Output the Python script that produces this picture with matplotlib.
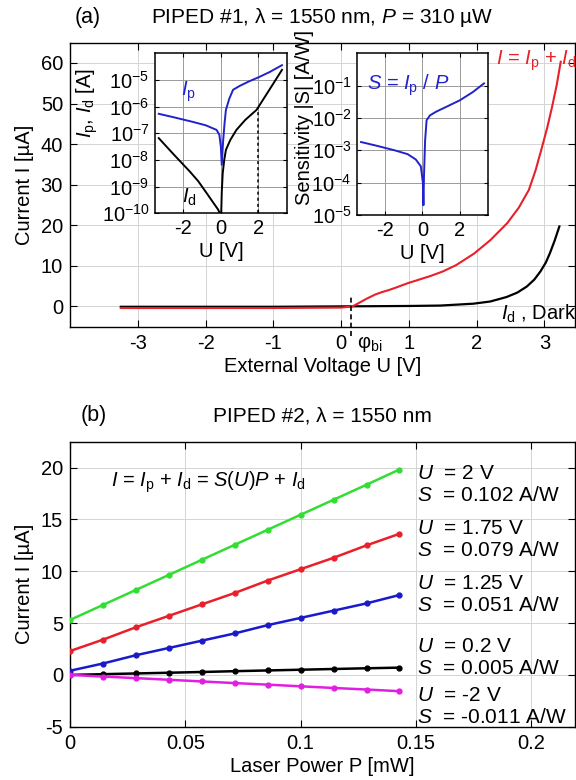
import numpy as np
import matplotlib
matplotlib.use("Agg")
import matplotlib.pyplot as plt
from matplotlib.ticker import LogLocator, NullFormatter, FixedLocator

plt.rcParams['font.family'] = ['Liberation Sans', 'DejaVu Sans']
plt.rcParams['mathtext.fontset'] = 'custom'
plt.rcParams['mathtext.rm'] = 'Liberation Sans'
plt.rcParams['mathtext.it'] = 'Liberation Sans:italic'
plt.rcParams['mathtext.bf'] = 'Liberation Sans:bold'
plt.rcParams['axes.unicode_minus'] = False
plt.rcParams['font.size'] = 14.5
FS = 14.5

# ---- (a) main I-U curves, current in uA ----
U_dark = [-3.25, -2.0, -1.0, 0.0, 0.5, 1.0, 1.46, 1.95, 2.2, 2.44, 2.6, 2.74, 2.85, 2.94, 3.02, 3.08, 3.15, 3.22]
I_dark = [-0.1, -0.1, -0.1, 0.0, 0.05, 0.1, 0.2, 0.66, 1.2, 2.3, 3.4, 4.9, 6.6, 8.6, 10.8, 13.1, 16.2, 19.7]

U_light = [-3.25, -2.0, -1.0, 0.0, 0.17, 0.28, 0.39, 0.5, 0.6, 0.7, 0.82, 0.98, 1.15, 1.32, 1.5, 1.7,
           1.96, 2.2, 2.45, 2.62, 2.77, 2.87, 2.96, 3.04, 3.11, 3.18, 3.24]
I_light = [-0.4, -0.4, -0.4, -0.3, 0.0, 1.0, 2.0, 2.9, 3.5, 4.0, 4.7, 5.7, 6.6, 7.5, 8.6, 10.2,
           13.0, 16.3, 20.5, 24.3, 28.7, 33.6, 39.0, 44.0, 49.0, 54.5, 60.3]

U_bi = 0.15

# ---- (a) inset 1: |Ip| and |Id| in A ----
U_ip = [-3.3, -2.5, -1.5, -0.8, -0.23, -0.08, 0.0, 0.05, 0.12, 0.2, 0.27, 0.45, 0.65, 1.0, 1.5, 2.0, 2.6, 3.25]
I_p = [5.4e-7, 4.0e-7, 2.7e-7, 2.0e-7, 1.35e-7, 8.9e-8, 3.2e-8, 6.6e-9, 5.0e-8, 2.5e-7, 7.6e-7,
       2.0e-6, 4.3e-6, 6.0e-6, 8.9e-6, 1.26e-5, 2.0e-5, 3.6e-5]

U_id = [-3.3, -2.5, -1.65, -1.2, -0.76, -0.4, -0.15, -0.05, 0.0, 0.05, 0.1, 0.18, 0.27, 0.5, 0.83,
        1.3, 1.9, 2.5, 3.0, 3.25]
I_d = [6.6e-8, 1.6e-8, 3.7e-9, 1.6e-9, 5.8e-10, 2.5e-10, 1.4e-10, 1.0e-10, 3e-11, 6.3e-10, 3.2e-9,
       1.0e-8, 2.4e-8, 5.6e-8, 1.35e-7, 3.2e-7, 7.6e-7, 3.5e-6, 1.26e-5, 2.4e-5]

# ---- (a) inset 2: sensitivity |S| in A/W ----
U_s = [-3.3, -2.5, -1.5, -0.8, -0.36, -0.09, 0.02, 0.05, 0.08, 0.14, 0.22, 0.4, 0.72, 1.2, 2.0, 2.7, 3.3]
S_abs = [1.8e-3, 1.4e-3, 1.0e-3, 7.6e-4, 5.2e-4, 3.2e-4, 1.0e-4, 2.0e-5, 1.6e-4, 2.0e-3, 8.5e-3,
         1.2e-2, 1.55e-2, 2.1e-2, 3.5e-2, 6.3e-2, 1.17e-1]

# ---- (b) current vs laser power ----
P_mW = [0.0, 0.0143, 0.0286, 0.0429, 0.0571, 0.0714, 0.0857, 0.1, 0.1143, 0.1286, 0.1427]
I_2V = [5.3, 6.75, 8.2, 9.65, 11.1, 12.55, 14.0, 15.45, 16.9, 18.35, 19.8]
I_175V = [2.3, 3.4, 4.6, 5.7, 6.8, 7.9, 9.1, 10.2, 11.3, 12.5, 13.6]
I_125V = [0.4, 1.1, 1.9, 2.6, 3.3, 4.0, 4.8, 5.5, 6.2, 6.9, 7.7]
I_02V = [0.0, 0.07, 0.14, 0.21, 0.28, 0.36, 0.43, 0.5, 0.57, 0.64, 0.7]
I_m2V = [0.0, -0.16, -0.31, -0.47, -0.63, -0.79, -0.94, -1.1, -1.26, -1.41, -1.57]

series_b = [I_2V, I_175V, I_125V, I_02V, I_m2V]
colors_b = ["#33dd33", "#e8202a", "#1a1acc", "black", "#e020e0"]
U_labels = ["2 V", "1.75 V", "1.25 V", "0.2 V", "-2 V"]
S_labels = ["0.102 A/W", "0.079 A/W", "0.051 A/W", "0.005 A/W", "-0.011 A/W"]
label_y = [18.35, 13.05, 7.75, 1.7, -3.05]

GRID = "#d4d4d4"
RED = "#e8202a"
BLUE = "#2222cc"


def style_axes(ax):
    ax.tick_params(direction="in", length=5, top=True, right=True, pad=5)
    ax.grid(True, color=GRID, lw=0.7)
    ax.set_axisbelow(True)
    for s in ax.spines.values():
        s.set_linewidth(1.0)


fig = plt.figure(figsize=(5.76, 7.8), dpi=100)

# ===================== panel (a) =====================
ax1 = fig.add_axes([0.1215, 0.5812, 0.8767, 0.3641])
style_axes(ax1)
ax1.plot(U_dark, I_dark, color="black", lw=1.6, zorder=2)
ax1.plot(U_light, I_light, color=RED, lw=1.5, zorder=3)
ax1.set_xlim(-4, 3.45)
ax1.set_ylim(-5, 65)
ax1.set_xticks([-3, -2, -1, 0, 1, 2, 3])
ax1.set_yticks([0, 10, 20, 30, 40, 50, 60])
ax1.set_xlabel("External Voltage U [V]", labelpad=3)
ax1.set_ylabel("Current I [µA]", labelpad=5)
ax1.plot([U_bi, U_bi], [-7.4, 2.9], color="black", lw=1.2, ls=(0, (3, 2)), clip_on=False, zorder=4)
ax1.text(U_bi + 0.08, -9.3, r"φ$_{\mathrm{bi}}$", ha="left", va="center", fontsize=FS)
ax1.text(3.47, 60.5, r"$I$ = $I_{\mathrm{p}}$ + $I_{\mathrm{d}}$", color=RED, ha="right", va="center", fontsize=FS)
ax1.text(3.47, -1.8, r"$I_{\mathrm{d}}$ , Dark", color="black", ha="right", va="center", fontsize=FS)
fig.text(0.13, 0.978, "(a)", ha="left", va="center", fontsize=FS + 1)
fig.text(0.56, 0.978, r"PIPED #1, λ = 1550 nm, $P$ = 310 µW", ha="center", va="center", fontsize=FS + 0.5)


def style_inset(ax):
    ax.set_yscale("log")
    ax.set_xlim(-3.5, 3.5)
    ax.set_xticks([-2, 0, 2])
    ax.tick_params(direction="in", length=3, pad=4, which="both", right=True, top=True)
    ax.tick_params(which="minor", length=0)
    ax.grid(True, which="major", axis="both", color="#9a9a9a", lw=0.7)
    ax.grid(True, which="minor", axis="y", color="#bdbdbd", lw=0.5)
    ax.yaxis.set_minor_locator(LogLocator(base=10, subs=np.arange(2, 10)))
    ax.yaxis.set_minor_formatter(NullFormatter())
    ax.set_axisbelow(True)
    ax.set_facecolor("white")
    for s in ax.spines.values():
        s.set_linewidth(1.1)


ins1 = fig.add_axes([0.2691, 0.7265, 0.2286, 0.2051])
style_inset(ins1)
ins1.plot(U_ip, I_p, color=BLUE, lw=1.4)
ins1.plot(U_id, I_d, color="black", lw=1.4)
ins1.plot([2, 2], [1e-10, 1.0e-6], color="black", lw=1.1, ls=(0, (2, 2)))
ins1.set_ylim(1e-10, 1e-4)
ins1.yaxis.set_major_locator(FixedLocator([1e-10, 1e-9, 1e-8, 1e-7, 1e-6, 1e-5]))
ins1.set_xlabel("U [V]", labelpad=3)
ins1.set_ylabel(r"$I_{\mathrm{p}}$, $I_{\mathrm{d}}$ [A]")
ins1.yaxis.set_label_coords(-0.42, 0.69)
ins1.text(-1.7, 10**-5.45, r"$I_{\mathrm{p}}$", color=BLUE, ha="center", va="center", fontsize=FS)
ins1.text(-1.7, 10**-9.4, r"$I_{\mathrm{d}}$", color="black", ha="center", va="center", fontsize=FS)

ins2 = fig.add_axes([0.6203, 0.7244, 0.2264, 0.2073])
style_inset(ins2)
ins2.plot(U_s, S_abs, color=BLUE, lw=1.4)
ins2.set_ylim(1e-5, 1e0)
ins2.yaxis.set_major_locator(FixedLocator([1e-5, 1e-4, 1e-3, 1e-2, 1e-1]))
ins2.set_xlabel("U [V]", labelpad=3)
ins2.set_ylabel("Sensitivity |S| [A/W]")
ins2.yaxis.set_label_coords(-0.33, 0.6)
ins2.text(-3.0, 10**-0.98, r"$S$ = $I_{\mathrm{p}}$ / $P$", color=BLUE, ha="left", va="center", fontsize=FS)

# ===================== panel (b) =====================
ax2 = fig.add_axes([0.1215, 0.0683, 0.8767, 0.3654])
style_axes(ax2)
for vals, col in zip(series_b, colors_b):
    ax2.plot(P_mW, vals, color=col, lw=1.8, marker="o", markersize=3.5, zorder=3)
ax2.set_xlim(0, 0.219)
ax2.set_ylim(-5, 22.5)
ax2.set_xticks([0, 0.05, 0.1, 0.15, 0.2])
ax2.set_xticklabels(["0", "0.05", "0.1", "0.15", "0.2"])
ax2.set_yticks([-5, 0, 5, 10, 15, 20])
ax2.set_xlabel("Laser Power P [mW]", labelpad=3)
ax2.set_ylabel("Current I [µA]", labelpad=5)
ax2.text(0.018, 18.6, r"$I$ = $I_{\mathrm{p}}$ + $I_{\mathrm{d}}$ = $S$($U$)$P$ + $I_{\mathrm{d}}$",
         ha="left", va="center", fontsize=FS)
for uy, ul, sl in zip(label_y, U_labels, S_labels):
    ax2.text(0.1506, uy + 1.05, r"$U$  = " + ul, ha="left", va="center", fontsize=FS + 0.5)
    ax2.text(0.1506, uy - 1.05, r"$S$  = " + sl, ha="left", va="center", fontsize=FS + 0.5)
fig.text(0.14, 0.467, "(b)", ha="left", va="center", fontsize=FS + 1)
fig.text(0.56, 0.467, r"PIPED #2, λ = 1550 nm", ha="center", va="center", fontsize=FS + 0.5)

fig.savefig("out.png", dpi=100)
